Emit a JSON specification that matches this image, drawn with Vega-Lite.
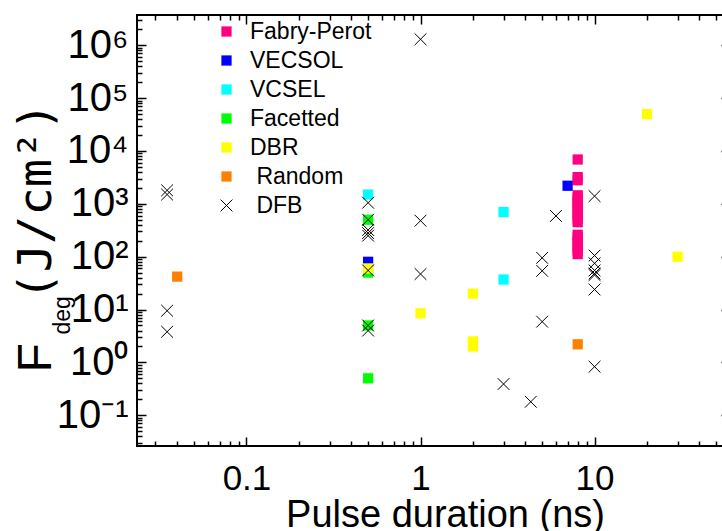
{
  "$schema": "https://vega.github.io/schema/vega-lite/v6.json",
  "autosize": {"type": "none"},
  "padding": {"left": 137, "top": 15, "right": 0, "bottom": 85},
  "width": 593,
  "height": 431,
  "background": "white",
  "config": {
    "view": {"stroke": "black", "strokeWidth": 2},
    "font": "Liberation Sans"
  },
  "data": {
    "values": [
      {"x": 8, "y": 6900, "type": "Fabry-Perot"},
      {"x": 8, "y": 3200, "type": "Fabry-Perot"},
      {"x": 8, "y": 2800, "type": "Fabry-Perot"},
      {"x": 8, "y": 1450, "type": "Fabry-Perot"},
      {"x": 8, "y": 1300, "type": "Fabry-Perot"},
      {"x": 8, "y": 1150, "type": "Fabry-Perot"},
      {"x": 8, "y": 1000, "type": "Fabry-Perot"},
      {"x": 8, "y": 900, "type": "Fabry-Perot"},
      {"x": 8, "y": 800, "type": "Fabry-Perot"},
      {"x": 8, "y": 700, "type": "Fabry-Perot"},
      {"x": 8, "y": 600, "type": "Fabry-Perot"},
      {"x": 8, "y": 530, "type": "Fabry-Perot"},
      {"x": 8, "y": 450, "type": "Fabry-Perot"},
      {"x": 8, "y": 260, "type": "Fabry-Perot"},
      {"x": 8, "y": 230, "type": "Fabry-Perot"},
      {"x": 8, "y": 200, "type": "Fabry-Perot"},
      {"x": 8, "y": 175, "type": "Fabry-Perot"},
      {"x": 8, "y": 150, "type": "Fabry-Perot"},
      {"x": 8, "y": 130, "type": "Fabry-Perot"},
      {"x": 8, "y": 112, "type": "Fabry-Perot"},
      {"x": 0.5, "y": 80, "type": "VECSOL"},
      {"x": 7, "y": 2200, "type": "VECSOL"},
      {"x": 0.5, "y": 1500, "type": "VCSEL"},
      {"x": 3, "y": 700, "type": "VCSEL"},
      {"x": 3, "y": 37, "type": "VCSEL"},
      {"x": 0.5, "y": 500, "type": "Facetted"},
      {"x": 0.5, "y": 50, "type": "Facetted"},
      {"x": 0.5, "y": 5, "type": "Facetted"},
      {"x": 0.5, "y": 0.5, "type": "Facetted"},
      {"x": 0.5, "y": 60, "type": "DBR"},
      {"x": 1, "y": 8.5, "type": "DBR"},
      {"x": 2, "y": 20, "type": "DBR"},
      {"x": 2, "y": 2.5, "type": "DBR"},
      {"x": 2, "y": 2.0, "type": "DBR"},
      {"x": 20, "y": 50000, "type": "DBR"},
      {"x": 30, "y": 100, "type": "DBR"},
      {"x": 0.04, "y": 42, "type": "Random"},
      {"x": 8, "y": 2.2, "type": "Random"},
      {"x": 0.035, "y": 1800, "type": "DFB"},
      {"x": 0.035, "y": 1500, "type": "DFB"},
      {"x": 0.035, "y": 9.5, "type": "DFB"},
      {"x": 0.035, "y": 3.8, "type": "DFB"},
      {"x": 0.5, "y": 1050, "type": "DFB"},
      {"x": 0.5, "y": 500, "type": "DFB"},
      {"x": 0.5, "y": 320, "type": "DFB"},
      {"x": 0.5, "y": 280, "type": "DFB"},
      {"x": 0.5, "y": 250, "type": "DFB"},
      {"x": 0.5, "y": 55, "type": "DFB"},
      {"x": 0.5, "y": 5, "type": "DFB"},
      {"x": 0.5, "y": 4, "type": "DFB"},
      {"x": 1, "y": 1300000, "type": "DFB"},
      {"x": 1, "y": 480, "type": "DFB"},
      {"x": 1, "y": 47, "type": "DFB"},
      {"x": 3, "y": 0.39, "type": "DFB"},
      {"x": 4.3, "y": 0.18, "type": "DFB"},
      {"x": 5, "y": 95, "type": "DFB"},
      {"x": 5, "y": 54, "type": "DFB"},
      {"x": 5, "y": 5.9, "type": "DFB"},
      {"x": 6, "y": 590, "type": "DFB"},
      {"x": 10, "y": 1400, "type": "DFB"},
      {"x": 10, "y": 105, "type": "DFB"},
      {"x": 10, "y": 75, "type": "DFB"},
      {"x": 10, "y": 55, "type": "DFB"},
      {"x": 10, "y": 48, "type": "DFB"},
      {"x": 10, "y": 45, "type": "DFB"},
      {"x": 10, "y": 24, "type": "DFB"},
      {"x": 10, "y": 0.83, "type": "DFB"}
    ]
  },
  "resolve": {"axis": {"x": "independent", "y": "independent"}},
  "layer": [
    {
      "mark": {"type": "point", "opacity": 1, "strokeWidth": 1, "size": 105},
      "encoding": {
        "x": {
          "field": "x", "type": "quantitative",
          "scale": {"type": "log", "domain": [0.0235, 60], "nice": false},
          "axis": {
            "orient": "bottom", "values": [0.1, 1, 10], "format": "~g",
            "ticks": false, "domain": false, "grid": false,
            "labelFont": "Liberation Sans", "labelFontSize": 35, "labelColor": "black",
            "labelPadding": 15, "labelFlush": false,
            "title": "Pulse duration (ns)", "titleFont": "Liberation Sans", "titleFontSize": 38,
            "titleFontWeight": "normal", "titleColor": "black",
            "titleX": 308, "titleY": 80, "titleBaseline": "alphabetic", "titleAlign": "center"
          }
        },
        "y": {
          "field": "y", "type": "quantitative",
          "scale": {"type": "log", "domain": [0.0262, 3740000], "nice": false},
          "axis": {
            "orient": "left", "values": [0.1, 1, 10, 100, 1000, 10000, 100000, 1000000],
            "labelExpr": "'10' + ['⁻¹','⁰','¹','²','³','⁴','⁵','⁶'][round(log(datum.value)/LN10)+1]",
            "ticks": false, "domain": false, "grid": false,
            "labelFont": "Liberation Sans", "labelFontSize": 40, "labelColor": "black",
            "labelPadding": 9, "labelFlush": false, "labelBaseline": "middle",
            "title": "F", "titleFont": "Liberation Sans", "titleFontSize": 48,
            "titleFontWeight": "normal", "titleColor": "black",
            "titleAngle": 270, "titleAlign": "left", "titleBaseline": "alphabetic",
            "titleX": -87, "titleY": 357
          }
        },
        "fill": {
          "field": "type", "type": "nominal",
          "scale": {
            "domain": ["Fabry-Perot", "VECSOL", "VCSEL", "Facetted", "DBR", "Random", "DFB"],
            "range": ["#ff0080", "#0000ff", "#00ffff", "#00ff00", "#ffff00", "#ff8000", "transparent"]
          },
          "legend": {
            "orient": "none", "legendX": 78, "legendY": 5, "title": null,
            "labelFont": "Liberation Sans", "labelFontSize": 23, "labelColor": "black",
            "labelExpr": "(datum.label == 'Random' || datum.label == 'DFB') ? '\u200b\u00a0' + datum.label : datum.label",
            "symbolSize": 105, "symbolStrokeWidth": 1, "rowPadding": 5, "labelOffset": 12, "padding": 0
          }
        },
        "stroke": {
          "field": "type", "type": "nominal",
          "scale": {
            "domain": ["Fabry-Perot", "VECSOL", "VCSEL", "Facetted", "DBR", "Random", "DFB"],
            "range": ["transparent", "transparent", "transparent", "transparent", "transparent", "transparent", "black"]
          },
          "legend": {
            "orient": "none", "legendX": 78, "legendY": 5, "title": null,
            "labelFont": "Liberation Sans", "labelFontSize": 23, "labelColor": "black",
            "labelExpr": "(datum.label == 'Random' || datum.label == 'DFB') ? '\u200b\u00a0' + datum.label : datum.label",
            "symbolSize": 105, "symbolStrokeWidth": 1, "rowPadding": 5, "labelOffset": 12, "padding": 0
          }
        },
        "shape": {
          "field": "type", "type": "nominal",
          "scale": {
            "domain": ["Fabry-Perot", "VECSOL", "VCSEL", "Facetted", "DBR", "Random", "DFB"],
            "range": ["square", "square", "square", "square", "square", "square", "M-1.15,-1.15L1.15,1.15M-1.15,1.15L1.15,-1.15"]
          },
          "legend": {
            "orient": "none", "legendX": 78, "legendY": 5, "title": null,
            "labelFont": "Liberation Sans", "labelFontSize": 23, "labelColor": "black",
            "labelExpr": "(datum.label == 'Random' || datum.label == 'DFB') ? '\u200b\u00a0' + datum.label : datum.label",
            "symbolSize": 105, "symbolStrokeWidth": 1, "rowPadding": 5, "labelOffset": 12, "padding": 0
          }
        }
      }
    },
    {
      "mark": {"type": "point", "opacity": 0},
      "encoding": {
        "x": {
          "field": "x", "type": "quantitative",
          "scale": {"type": "log", "domain": [0.0235, 60], "nice": false},
          "axis": {
            "orient": "bottom",
            "values": [0.03,0.04,0.05,0.06,0.07,0.08,0.09,0.2,0.3,0.4,0.5,0.6,0.7,0.8,0.9,2,3,4,5,6,7,8,9,20,30,40,50],
            "labels": false, "domain": false, "grid": false, "ticks": true,
            "tickColor": "black", "tickWidth": 1.5, "tickSize": -5,
            "title": null
          }
        },
        "y": {
          "field": "y", "type": "quantitative",
          "scale": {"type": "log", "domain": [0.0262, 3740000], "nice": false},
          "axis": {
            "orient": "left",
            "values": [0.03,0.04,0.05,0.06,0.07,0.08,0.09,0.2,0.3,0.4,0.5,0.6,0.7,0.8,0.9,2,3,4,5,6,7,8,9,20,30,40,50,60,70,80,90,200,300,400,500,600,700,800,900,2000,3000,4000,5000,6000,7000,8000,9000,20000,30000,40000,50000,60000,70000,80000,90000,200000,300000,400000,500000,600000,700000,800000,900000,2000000,3000000],
            "labels": false, "domain": false, "grid": false, "ticks": true,
            "tickColor": "black", "tickWidth": 1.5, "tickSize": -5,
            "title": "deg", "titleFont": "Liberation Sans", "titleFontSize": 23,
            "titleFontWeight": "normal", "titleColor": "black",
            "titleAngle": 270, "titleAlign": "left", "titleBaseline": "alphabetic",
            "titleX": -68, "titleY": 319
          }
        }
      }
    },
    {
      "mark": {"type": "point", "opacity": 0},
      "encoding": {
        "x": {
          "field": "x", "type": "quantitative",
          "scale": {"type": "log", "domain": [0.0235, 60], "nice": false},
          "axis": {
            "orient": "top",
            "values": [0.03,0.04,0.05,0.06,0.07,0.08,0.09,0.2,0.3,0.4,0.5,0.6,0.7,0.8,0.9,2,3,4,5,6,7,8,9,20,30,40,50],
            "labels": false, "domain": false, "grid": false, "ticks": true,
            "tickColor": "black", "tickWidth": 1.5, "tickSize": -5,
            "title": null
          }
        },
        "y": {
          "field": "y", "type": "quantitative",
          "scale": {"type": "log", "domain": [0.0262, 3740000], "nice": false},
          "axis": {
            "orient": "right",
            "values": [0.03,0.04,0.05,0.06,0.07,0.08,0.09,0.2,0.3,0.4,0.5,0.6,0.7,0.8,0.9,2,3,4,5,6,7,8,9,20,30,40,50,60,70,80,90,200,300,400,500,600,700,800,900,2000,3000,4000,5000,6000,7000,8000,9000,20000,30000,40000,50000,60000,70000,80000,90000,200000,300000,400000,500000,600000,700000,800000,900000,2000000,3000000],
            "labels": false, "domain": false, "grid": false, "ticks": true,
            "tickColor": "black", "tickWidth": 1.5, "tickSize": -5,
            "title": null
          }
        }
      }
    },
    {
      "mark": {"type": "point", "opacity": 0},
      "encoding": {
        "x": {
          "field": "x", "type": "quantitative",
          "scale": {"type": "log", "domain": [0.0235, 60], "nice": false},
          "axis": {
            "orient": "bottom", "values": [0.1, 1, 10],
            "labels": false, "domain": false, "grid": false, "ticks": true,
            "tickColor": "black", "tickWidth": 1.5, "tickSize": -9,
            "title": null
          }
        },
        "y": {
          "field": "y", "type": "quantitative",
          "scale": {"type": "log", "domain": [0.0262, 3740000], "nice": false},
          "axis": {
            "orient": "left", "values": [0.1, 1, 10, 100, 1000, 10000, 100000, 1000000],
            "labels": false, "domain": false, "grid": false, "ticks": true,
            "tickColor": "black", "tickWidth": 1.5, "tickSize": -9,
            "title": "(J/cm²)", "titleFont": "DejaVu Sans Mono", "titleFontSize": 47,
            "titleFontWeight": "normal", "titleColor": "black",
            "titleAngle": 270, "titleAlign": "left", "titleBaseline": "alphabetic",
            "titleX": -87, "titleY": 285
          }
        }
      }
    },
    {
      "mark": {"type": "point", "opacity": 0},
      "encoding": {
        "x": {
          "field": "x", "type": "quantitative",
          "scale": {"type": "log", "domain": [0.0235, 60], "nice": false},
          "axis": {
            "orient": "top", "values": [0.1, 1, 10],
            "labels": false, "domain": false, "grid": false, "ticks": true,
            "tickColor": "black", "tickWidth": 1.5, "tickSize": -9,
            "title": null
          }
        },
        "y": {
          "field": "y", "type": "quantitative",
          "scale": {"type": "log", "domain": [0.0262, 3740000], "nice": false},
          "axis": {
            "orient": "right", "values": [0.1, 1, 10, 100, 1000, 10000, 100000, 1000000],
            "labels": false, "domain": false, "grid": false, "ticks": true,
            "tickColor": "black", "tickWidth": 1.5, "tickSize": -9,
            "title": null
          }
        }
      }
    }
  ]
}
